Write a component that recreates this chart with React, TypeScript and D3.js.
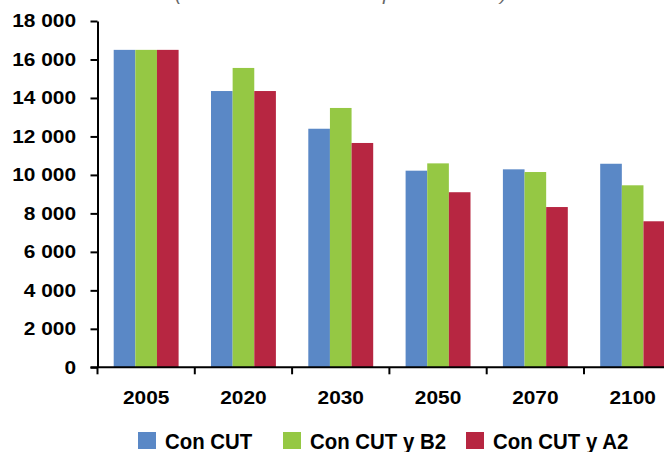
import { useEffect, useRef } from "react";
import * as d3 from "d3";

const years = ["2005", "2020", "2030", "2050", "2070", "2100"];
const seriesNames = ["Con CUT", "Con CUT y B2", "Con CUT y A2"];
const conCut = [16500, 14360, 12400, 10220, 10290, 10580];
const conCutB2 = [16500, 15560, 13480, 10600, 10150, 9460];
const conCutA2 = [16500, 14360, 11660, 9100, 8330, 7590];
const yTicks = [0, 2000, 4000, 6000, 8000, 10000, 12000, 14000, 16000, 18000];
const colors = ["#5A88C6", "#95C844", "#B72641"];
const titleText = "(en miles de toneladas por habitante)";

const W = 664;
const H = 452;
const FONT = "'Liberation Sans', Arial, Helvetica, sans-serif";

export default function App() {
  const svgRef = useRef<SVGSVGElement>(null);

  useEffect(() => {
    const svg = d3.select(svgRef.current);
    svg.selectAll("*").remove();

    const left = 97.5;
    const band = 97.3;
    const y = d3.scaleLinear().domain([0, 18000]).range([367.3, 21]);
    const x = d3
      .scaleBand()
      .domain(years)
      .range([left, left + band * years.length])
      .padding(0);
    const xs = d3
      .scaleBand()
      .domain(seriesNames)
      .range([16.2, band - 16.2]);

    const series = [conCut, conCutB2, conCutA2];

    // title, cut off by the top edge as in the source figure
    svg
      .append("text")
      .attr("x", 175)
      .attr("y", 0)
      .attr("textLength", 332)
      .attr("lengthAdjust", "spacingAndGlyphs")
      .attr("font-family", FONT)
      .attr("font-style", "italic")
      .attr("font-size", 18)
      .attr("fill", "#666")
      .text(titleText);

    // bars
    series.forEach((vals, si) => {
      svg
        .append("g")
        .selectAll("rect")
        .data(vals)
        .enter()
        .append("rect")
        .attr("x", (_, i) => (x(years[i]) || 0) + (xs(seriesNames[si]) || 0))
        .attr("y", (d) => y(d))
        .attr("width", xs.bandwidth())
        .attr("height", (d) => y(0) - y(d))
        .attr("fill", colors[si]);
    });

    // y axis
    const yAxis = svg
      .append("g")
      .attr("transform", `translate(${left},0)`)
      .call(d3.axisLeft(y).tickValues(yTicks).tickSize(7).tickSizeOuter(0).tickFormat(() => ""));
    yAxis.select(".domain").attr("stroke", "#000").attr("stroke-width", 2);
    yAxis.selectAll(".tick line").attr("stroke", "#000").attr("stroke-width", 2);

    svg
      .append("g")
      .selectAll("g")
      .data(yTicks)
      .enter()
      .append("g")
      .attr("transform", (d) => `translate(76,${y(d)}) scale(1.16,1)`)
      .append("text")
      .attr("text-anchor", "end")
      .attr("dy", "0.36em")
      .attr("font-family", FONT)
      .attr("font-weight", "bold")
      .attr("font-size", 18)
      .attr("fill", "#000")
      .text((d) => d3.format(",")(d).replace(/,/g, " "));

    // x axis
    const xAxis = svg
      .append("g")
      .attr("transform", `translate(0,${y(0)})`);
    xAxis
      .append("line")
      .attr("x1", left - 7)
      .attr("x2", W)
      .attr("stroke", "#000")
      .attr("stroke-width", 2);
    xAxis
      .selectAll("line.tk")
      .data(years)
      .enter()
      .append("line")
      .attr("class", "tk")
      .attr("x1", (d) => x(d) || 0)
      .attr("x2", (d) => x(d) || 0)
      .attr("y1", 0)
      .attr("y2", 7)
      .attr("stroke", "#000")
      .attr("stroke-width", 2);

    svg
      .append("g")
      .selectAll("g")
      .data(years)
      .enter()
      .append("g")
      .attr("transform", (d) => `translate(${(x(d) || 0) + x.bandwidth() / 2},404) scale(1.16,1)`)
      .append("text")
      .attr("text-anchor", "middle")
      .attr("font-family", FONT)
      .attr("font-weight", "bold")
      .attr("font-size", 18)
      .attr("fill", "#000")
      .text((d) => d);

    // legend
    const legendX = [138, 283, 466];
    const lg = svg
      .append("g")
      .selectAll("g")
      .data(seriesNames)
      .enter()
      .append("g")
      .attr("transform", (_, i) => `translate(${legendX[i]},432)`);
    lg.append("rect")
      .attr("width", 18)
      .attr("height", 17)
      .attr("fill", (_, i) => colors[i]);
    lg.append("g")
      .attr("transform", "translate(27,16.5) scale(0.95,1)")
      .append("text")
      .attr("font-family", FONT)
      .attr("font-weight", "bold")
      .attr("font-size", 21.5)
      .attr("fill", "#000")
      .text((d) => d);
  }, []);

  return (
    <svg
      ref={svgRef}
      width={W}
      height={H}
      style={{ position: "absolute", left: 0, top: 0, background: "#fff" }}
    />
  );
}
